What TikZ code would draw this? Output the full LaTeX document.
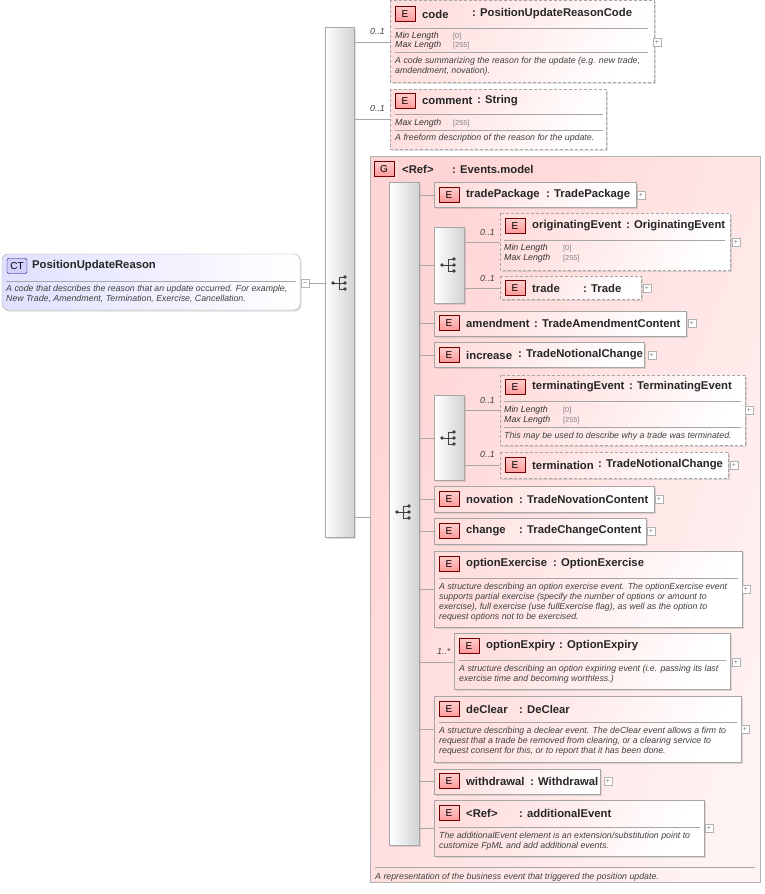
\documentclass[tikz,border=0pt]{standalone}
\usepackage{fontspec}
\setmainfont{Liberation Sans}
\usetikzlibrary{shadows}
\tikzset{
 x=1pt,y=-1pt,
 ebox/.style={draw=gray!70,left color=red!13,right color=white,shading angle=60,drop shadow={shadow xshift=1.5pt,shadow yshift=-1.5pt,opacity=.25}},
 dbox/.style={ebox,dashed,dash pattern=on 3pt off 2pt},
 bar/.style={draw=gray!70,left color=white,right color=gray!35,drop shadow={shadow xshift=1.5pt,shadow yshift=-1.5pt,opacity=.25}},
 grp/.style={draw=gray!60,left color=red!17,right color=red!5,shading angle=70},
 badge/.style={draw=red!45!black,top color=red!20,bottom color=red!40,minimum width=20pt,minimum height=15pt,inner sep=0pt,font=\fontsize{10}{10}\selectfont},
 nm/.style={font=\bfseries\fontsize{11.3}{12}\selectfont,inner sep=0pt,text=black!85},
 doc/.style={font=\itshape\fontsize{8.8}{10}\selectfont,inner sep=0pt,anchor=base west,text=black!75},
 fac/.style={font=\itshape\fontsize{8.8}{10}\selectfont,inner sep=0pt,anchor=base west,text=black!80},
 facv/.style={font=\fontsize{7.3}{8}\selectfont,inner sep=0pt,anchor=base west,text=gray},
 card/.style={font=\itshape\fontsize{8.8}{10}\selectfont,inner sep=0pt,anchor=base west,text=black!75},
 sep/.style={draw=gray!70},
 con/.style={draw=gray!70},
 pb/.style={draw=gray!60,fill=white,minimum size=8pt,inner sep=0pt,font=\fontsize{7}{7}\selectfont,text=gray},
}
\newcommand\hdr[6]{% name x y label typex type
 \node[badge] (#1b) at (#2+15,#3) {E};
 \node[nm,anchor=west] (#1n) at (#2+32,#3) {#4};
 \node[nm,anchor=west] (#1t) at (#5+3,#3) {: #6};}
\newcommand\ico[3]{% name cx cy
 \coordinate (#1) at (#2,#3);
 \fill[black!75] (#2-7,#3) circle (1.9pt) (#2+5,#3-6) circle (1.9pt) (#2+5,#3) circle (1.9pt) (#2+5,#3+6) circle (1.9pt);
 \draw[black!75,line width=1pt] (#2-7,#3)--(#2-1,#3) (#2-1,#3-6)--(#2-1,#3+6) (#2-1,#3-6)--(#2+5,#3-6) (#2-1,#3)--(#2+5,#3) (#2-1,#3+6)--(#2+5,#3+6);}
\newcommand\plus[3]{\node[pb] (#1) at (#2,#3) {+};}
\begin{document}
\begin{tikzpicture}
\useasboundingbox (0,0) rectangle (765,894);
% CT
\draw[draw=gray!70,left color=blue!12,right color=white,rounded corners=6pt,drop shadow={shadow xshift=1.5pt,shadow yshift=-1.5pt,opacity=.25}] (2,254) rectangle (300,310);
\node[draw=blue!40!black,fill=blue!18,rounded corners=2pt,minimum width=20pt,minimum height=15pt,inner sep=0pt,font=\fontsize{10}{10}\selectfont] (ctb) at (17,266) {CT};
\node[nm,anchor=west] (ctn) at (32,266) {PositionUpdateReason};
\draw[sep] (6,281)--(296,281);
\node[doc] (ctd1) at (6,291) {A code that describes the reason that an update occurred. For example,};
\node[doc] (ctd2) at (6,301) {New Trade, Amendment, Termination, Exercise, Cancellation.};
\node[pb] (ctm) at (305,283) {--};
% main sequence
\draw[bar] (325,27) rectangle (354,537);
\ico{mseq}{340}{283}
\draw[con] (ctm.east)--(325,283);
% code
\draw[dbox] (390,0) rectangle (654,82);
\hdr{code}{390}{14}{code}{469}{PositionUpdateReasonCode}
\draw[sep] (395,28)--(648,28);
\node[fac] (c1) at (395,38) {Min Length}; \node[facv] (c1v) at (453,38) {[0]};
\node[fac] (c2) at (395,47) {Max Length}; \node[facv] (c2v) at (453,47) {[255]};
\draw[sep] (395,52)--(648,52);
\node[doc] (cd1) at (395,63) {A code summarizing the reason for the update (e.g. new trade,};
\node[doc] (cd2) at (395,73) {amdendment, novation).};
\plus{codep}{657}{42}
\node[card] (codec) at (370,34) {0..1};
\draw[con] (354,42)--(390,42);
% comment
\draw[dbox] (390,89) rectangle (606,149);
\hdr{com}{390}{101}{comment}{474}{String}
\draw[sep] (395,114)--(603,114);
\node[fac] (m1) at (395,125) {Max Length}; \node[facv] (m1v) at (453,125) {[255]};
\draw[sep] (395,130)--(603,130);
\node[doc] (md) at (395,140) {A freeform description of the reason for the update.};
\node[card] (comc) at (370,111) {0..1};
\draw[con] (354,119)--(390,119);
% group
\draw[grp] (370,156) rectangle (760,882);
\node[badge] (gb) at (384,169) {G};
\node[nm,anchor=west] (gn) at (402,169) {<Ref>};
\node[nm,anchor=west] (gt) at (452,169) {: Events.model};
\draw[sep] (375,867)--(755,867);
\node[doc] (gd) at (375,879) {A representation of the business event that triggered the position update.};
\draw[con] (354,517)--(370,517);
% inner sequence
\draw[bar] (389,182) rectangle (419,845);
\ico{iseq}{404}{512}
% tradePackage
\draw[ebox] (434,182) rectangle (636,207);
\hdr{tp}{434}{195}{tradePackage}{543}{TradePackage}
\plus{tpp}{641}{195}
\draw[con] (419,195)--(434,195);
% choice 1
\draw[bar] (434,227) rectangle (464,303);
\ico{ch1}{449}{265}
\draw[con] (419,265)--(434,265);
\draw[dbox] (500,213) rectangle (730,270);
\hdr{oe}{500}{226}{originatingEvent}{623}{OriginatingEvent}
\draw[sep] (504,240)--(725,240);
\node[fac] (o1) at (504,250) {Min Length}; \node[facv] (o1v) at (563,250) {[0]};
\node[fac] (o2) at (504,260) {Max Length}; \node[facv] (o2v) at (563,260) {[255]};
\plus{oep}{736}{242}
\node[card] (oec) at (480,235) {0..1};
\draw[con] (464,242)--(500,242);
\draw[dbox] (500,276) rectangle (641,299);
\hdr{tr}{500}{288}{trade}{580}{Trade}
\plus{trp}{647}{288}
\node[card] (trc) at (480,281) {0..1};
\draw[con] (464,288)--(500,288);
% amendment
\draw[ebox] (434,311) rectangle (686,336);
\hdr{am}{434}{323}{amendment}{531}{TradeAmendmentContent}
\plus{amp}{692}{323}
\draw[con] (419,323)--(434,323);
% increase
\draw[ebox] (434,342) rectangle (644,367);
\hdr{in}{434}{355}{increase}{515}{TradeNotionalChange}
\plus{inp}{652}{355}
\draw[con] (419,355)--(434,355);
% choice 2
\draw[bar] (434,395) rectangle (464,480);
\ico{ch2}{449}{438}
\draw[con] (419,438)--(434,438);
\draw[dbox] (500,375) rectangle (745,445);
\hdr{te}{500}{387}{terminatingEvent}{626}{TerminatingEvent}
\draw[sep] (504,401)--(741,401);
\node[fac] (t1) at (504,412) {Min Length}; \node[facv] (t1v) at (563,412) {[0]};
\node[fac] (t2) at (504,422) {Max Length}; \node[facv] (t2v) at (563,422) {[255]};
\draw[sep] (504,427)--(741,427);
\node[doc] (ted) at (504,438) {This may be used to describe why a trade was terminated.};
\plus{tep}{749}{410}
\node[card] (tec) at (480,403) {0..1};
\draw[con] (464,410)--(500,410);
\draw[dbox] (500,452) rectangle (728,478);
\hdr{tm}{500}{465}{termination}{595}{TradeNotionalChange}
\plus{tmp}{734}{465}
\node[card] (tmc) at (480,457) {0..1};
\draw[con] (464,465)--(500,465);
% novation
\draw[ebox] (434,486) rectangle (654,512);
\hdr{nv}{434}{499}{novation}{516}{TradeNovationContent}
\plus{nvp}{659}{499}
\draw[con] (419,499)--(434,499);
% change
\draw[ebox] (434,518) rectangle (646,544);
\hdr{cg}{434}{531}{change}{516}{TradeChangeContent}
\plus{cgp}{651}{531}
\draw[con] (419,531)--(434,531);
% optionExercise
\draw[ebox] (434,551) rectangle (742,627);
\hdr{ox}{434}{564}{optionExercise}{550}{OptionExercise}
\draw[sep] (439,578)--(738,578);
\node[doc] (ox1) at (439,589) {A structure describing an option exercise event. The optionExercise event};
\node[doc] (ox2) at (439,599) {supports partial exercise (specify the number of options or amount to};
\node[doc] (ox3) at (439,609) {exercise), full exercise (use fullExercise flag), as well as the option to};
\node[doc] (ox4) at (439,619) {request options not to be exercised.};
\plus{oxp}{746}{589}
\draw[con] (419,589)--(434,589);
% optionExpiry
\draw[ebox] (454,633) rectangle (730,689);
\hdr{oy}{454}{646}{optionExpiry}{556}{OptionExpiry}
\draw[sep] (459,660)--(726,660);
\node[doc] (oy1) at (459,671) {A structure describing an option expiring event (i.e. passing its last};
\node[doc] (oy2) at (459,681) {exercise time and becoming worthless.)};
\plus{oyp}{736}{662}
\node[card] (oyc) at (437,654) {1..*};
\draw[con] (419,662)--(454,662);
% deClear
\draw[ebox] (434,696) rectangle (741,762);
\hdr{dc}{434}{709}{deClear}{516}{DeClear}
\draw[sep] (439,722)--(737,722);
\node[doc] (dc1) at (439,733) {A structure describing a declear event. The deClear event allows a firm to};
\node[doc] (dc2) at (439,743) {request that a trade be removed from clearing, or a clearing service to};
\node[doc] (dc3) at (439,753) {request consent for this, or to report that it has been done.};
\plus{dcp}{745}{729}
\draw[con] (419,729)--(434,729);
% withdrawal
\draw[ebox] (434,769) rectangle (600,794);
\hdr{wd}{434}{781}{withdrawal}{527}{Withdrawal}
\plus{wdp}{608}{781}
\draw[con] (419,781)--(434,781);
% additionalEvent
\draw[ebox] (434,800) rectangle (704,856);
\hdr{ae}{434}{813}{<Ref>}{516}{additionalEvent}
\draw[sep] (439,827)--(700,827);
\node[doc] (ae1) at (439,838) {The additionalEvent element is an extension/substitution point to};
\node[doc] (ae2) at (439,848) {customize FpML and add additional events.};
\plus{aep}{709}{828}
\draw[con] (419,828)--(434,828);
\end{tikzpicture}
\end{document}
